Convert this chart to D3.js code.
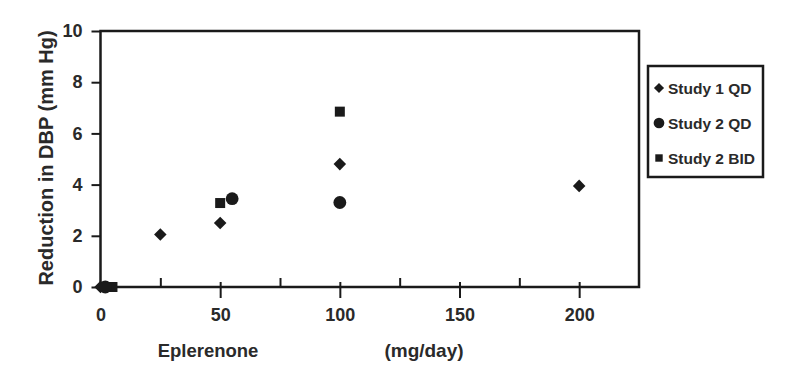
<!DOCTYPE html>
<html>
<head>
<meta charset="utf-8">
<script src="https://cdn.jsdelivr.net/npm/d3@7"></script>
<style>
  body { margin: 0; background: #fff; }
  text { font-family: "Liberation Sans", Arial, sans-serif; font-weight: bold; fill: #2a2a2a; }
</style>
</head>
<body>
<svg width="794" height="385"></svg>
<script>
// Series: dose (mg/day) and reduction in DBP (mm Hg)
const study1QD = [
    { dose: 0, value: 0 },
    { dose: 25, value: 2.05 },
    { dose: 50, value: 2.5 },
    { dose: 100, value: 4.8 },
    { dose: 200, value: 3.95 }
];
const study2QD = [
    { dose: 2, value: 0 },
    { dose: 55, value: 3.45 },
    { dose: 100, value: 3.3 }
];
const study2BID = [
    { dose: 5, value: 0 },
    { dose: 50, value: 3.28 },
    { dose: 100, value: 6.85 }
];

const seriesNames = ["Study 1 QD", "Study 2 QD", "Study 2 BID"];
const xMajorTicks = [0, 50, 100, 150, 200];
const xMinorTicks = [25, 75, 125, 175];
const yTicks = [0, 2, 4, 6, 8, 10];

const svg = d3.select("svg");

const plotLeft = 100.5, plotRight = 639, plotTop = 31, plotBottom = 287;

const x = d3.scaleLinear().domain([0, 225]).range([plotLeft, plotRight]);
const y = d3.scaleLinear().domain([0, 10]).range([plotBottom, plotTop]);

// plot frame
svg.append("rect")
    .attr("x", plotLeft).attr("y", plotTop)
    .attr("width", plotRight - plotLeft).attr("height", plotBottom - plotTop)
    .attr("fill", "none")
    .attr("stroke", "#1a1a1a")
    .attr("stroke-width", 2.5);

// y axis
const yAxis = svg.append("g")
    .attr("transform", `translate(${plotLeft},0)`)
    .call(d3.axisLeft(y).tickValues(yTicks).tickSize(9).tickPadding(9));
yAxis.select(".domain").remove();
yAxis.selectAll("line").attr("stroke", "#1a1a1a").attr("stroke-width", 2);
yAxis.selectAll("text")
    .attr("font-size", 18)
    .attr("fill", "#2a2a2a")
    .style("font-family", "Liberation Sans, Arial, sans-serif")
    .style("font-weight", "bold");

// x axis, major ticks cross the axis line
const xAxis = svg.append("g")
    .attr("transform", `translate(0,${plotBottom})`)
    .call(d3.axisBottom(x).tickValues(xMajorTicks).tickSize(11).tickPadding(10));
xAxis.select(".domain").remove();
xAxis.selectAll("line").attr("y1", -5).attr("stroke", "#1a1a1a").attr("stroke-width", 2);
xAxis.selectAll(".tick").filter(d => d === 0).select("line").remove();
xAxis.selectAll("text")
    .attr("font-size", 18)
    .attr("fill", "#2a2a2a")
    .style("font-family", "Liberation Sans, Arial, sans-serif")
    .style("font-weight", "bold");

// minor ticks point inward
const xMinor = svg.append("g")
    .attr("transform", `translate(0,${plotBottom})`)
    .call(d3.axisTop(x).tickValues(xMinorTicks).tickSize(9).tickFormat(""));
xMinor.select(".domain").remove();
xMinor.selectAll("line").attr("stroke", "#1a1a1a").attr("stroke-width", 2);

// axis titles
svg.append("text")
    .attr("transform", `translate(53,158) rotate(-90)`)
    .attr("text-anchor", "middle")
    .attr("font-size", 20)
    .text("Reduction in DBP (mm Hg)");

svg.append("text")
    .attr("x", 208).attr("y", 357)
    .attr("text-anchor", "middle")
    .attr("font-size", 18.5)
    .text("Eplerenone");

svg.append("text")
    .attr("x", 424).attr("y", 357)
    .attr("text-anchor", "middle")
    .attr("font-size", 19)
    .text("(mg/day)");

// markers
const diamond = d3.symbol().type(d3.symbolDiamond2).size(100);
const circle = d3.symbol().type(d3.symbolCircle).size(130);
const square = d3.symbol().type(d3.symbolSquare).size(100);

const marks = svg.append("g").attr("fill", "#1a1a1a");

marks.selectAll(".s1")
    .data(study1QD)
    .enter().append("path")
    .attr("class", "s1")
    .attr("d", diamond)
    .attr("transform", d => `translate(${x(d.dose)},${y(d.value)})`);

marks.selectAll(".s3")
    .data(study2BID)
    .enter().append("path")
    .attr("class", "s3")
    .attr("d", square)
    .attr("transform", d => `translate(${x(d.dose)},${y(d.value)})`);

marks.selectAll(".s2")
    .data(study2QD)
    .enter().append("path")
    .attr("class", "s2")
    .attr("d", circle)
    .attr("transform", d => `translate(${x(d.dose)},${y(d.value)})`);

// legend
const legend = svg.append("g");
legend.append("rect")
    .attr("x", 648).attr("y", 66)
    .attr("width", 115).attr("height", 111)
    .attr("fill", "#fff")
    .attr("stroke", "#1a1a1a")
    .attr("stroke-width", 2.5);

const legendSymbols = [
    d3.symbol().type(d3.symbolDiamond2).size(65),
    d3.symbol().type(d3.symbolCircle).size(90),
    d3.symbol().type(d3.symbolSquare).size(55)
];

seriesNames.forEach((name, i) => {
    const ly = 88 + i * 35;
    legend.append("path")
        .attr("d", legendSymbols[i])
        .attr("fill", "#1a1a1a")
        .attr("transform", `translate(659,${ly})`);
    legend.append("text")
        .attr("x", 668).attr("y", ly + 5.5)
        .attr("font-size", 15.5)
        .text(name);
});
</script>
</body>
</html>
